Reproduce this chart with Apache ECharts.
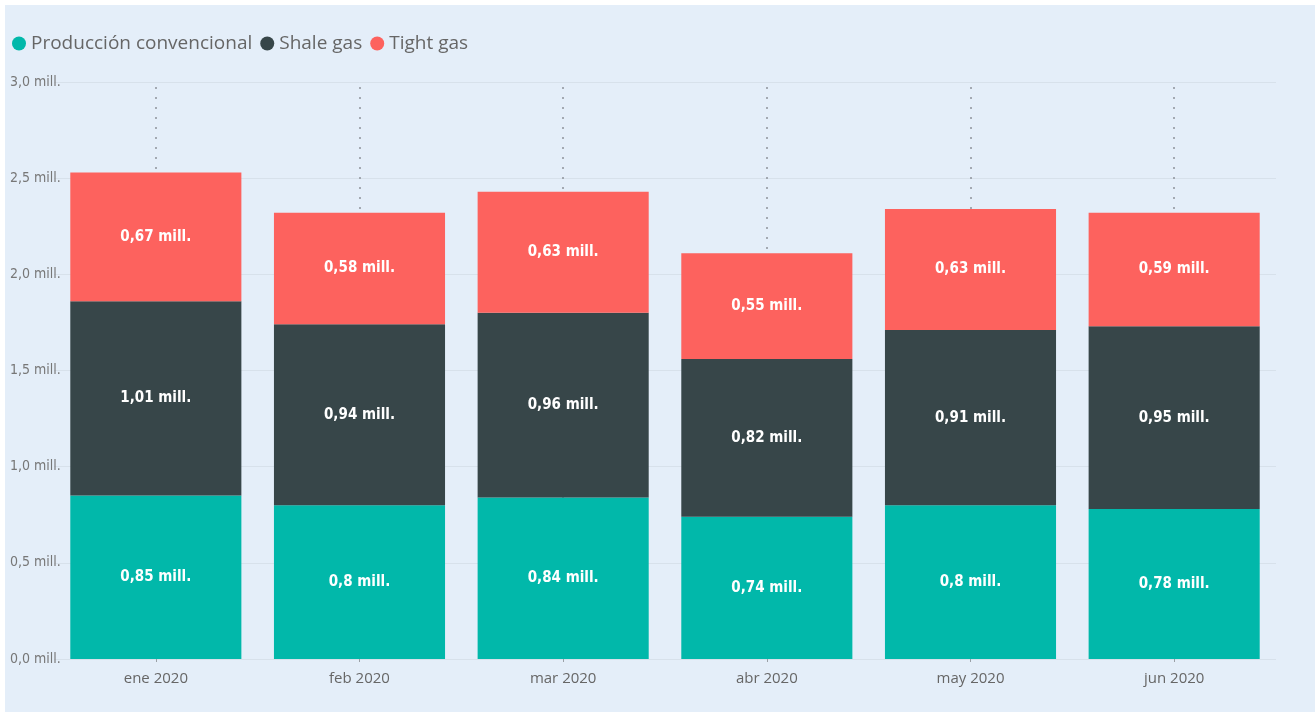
<!DOCTYPE html>
<html>
<head>
<meta charset="utf-8">
<script src="https://cdn.jsdelivr.net/npm/echarts@6/dist/echarts.min.js"></script>
<style>
  html, body { margin: 0; padding: 0; background: #ffffff; }
  #chart { position: absolute; left: 5px; top: 5px; width: 1310px; height: 707px; background: #e4eef9; }
</style>
</head>
<body>
<div id="chart"></div>
<script>
// meses
const months = ['ene 2020', 'feb 2020', 'mar 2020', 'abr 2020', 'may 2020', 'jun 2020'];
// millones de m3 por tipo
const convencional = [0.85, 0.8, 0.84, 0.74, 0.8, 0.78];
const shale = [1.01, 0.94, 0.96, 0.82, 0.91, 0.95];
const tight = [0.67, 0.58, 0.63, 0.55, 0.63, 0.59];
const yTicks = [0, 0.5, 1, 1.5, 2, 2.5, 3];

const colors = ['#01b8aa', '#374649', '#fd625e'];

const barLabel = {
    show: true,
    position: 'inside',
    color: '#ffffff',
    fontFamily: '"DejaVu Sans Condensed", "Liberation Sans Narrow", sans-serif',
    fontWeight: 'bold',
    fontSize: 15,
    formatter: p => String(p.value).replace('.', ',') + ' mill.'
};

function bar(name, data, color) {
    return {
        name: name,
        type: 'bar',
        stack: 'total',
        data: data,
        barCategoryGap: '16%',
        itemStyle: {color: color},
        label: barLabel,
        z: 10
    };
}

const myChart = echarts.init(document.getElementById('chart'));
myChart.setOption({
    backgroundColor: '#e4eef9',
    animation: false,
    color: colors,
    legend: {
        data: ['Producción convencional', 'Shale gas', 'Tight gas'],
        left: 2,
        top: 24,
        icon: 'circle',
        itemWidth: 14,
        itemHeight: 14,
        itemGap: 8,
        textStyle: {
            color: '#666666',
            fontSize: 19,
            fontFamily: '"Open Sans", sans-serif'
        }
    },
    grid: {left: 49, right: 39, top: 77, bottom: 53},
    xAxis: {
        type: 'category',
        data: months,
        axisLine: {show: false},
        axisTick: {show: true, alignWithLabel: true, length: 3, lineStyle: {color: '#9aa0a6'}},
        axisLabel: {
            color: '#666666',
            fontSize: 15,
            margin: 12,
            fontFamily: '"Open Sans", sans-serif'
        }
    },
    yAxis: {
        type: 'value',
        min: yTicks[0],
        max: yTicks[yTicks.length - 1],
        interval: 0.5,
        axisLine: {show: false},
        axisTick: {show: false},
        splitLine: {lineStyle: {color: '#d7e1eb', width: 1}},
        axisLabel: {
            align: 'left',
            margin: 44,
            color: '#777777',
            fontSize: 14,
            fontFamily: '"DejaVu Sans Condensed", "Liberation Sans Narrow", sans-serif',
            formatter: v => v.toFixed(1).replace('.', ',') + ' mill.'
        }
    },
    series: [
        {
            name: 'guias',
            type: 'line',
            data: [],
            z: 1,
            markLine: {
                silent: true,
                symbol: 'none',
                z: 1,
                label: {show: false},
                lineStyle: {color: '#8d939a', type: [2, 8], width: 1.5},
                data: months.map((m, i) => ({xAxis: i}))
            }
        },
        bar('Producción convencional', convencional, colors[0]),
        bar('Shale gas', shale, colors[1]),
        bar('Tight gas', tight, colors[2])
    ]
});
</script>
</body>
</html>
